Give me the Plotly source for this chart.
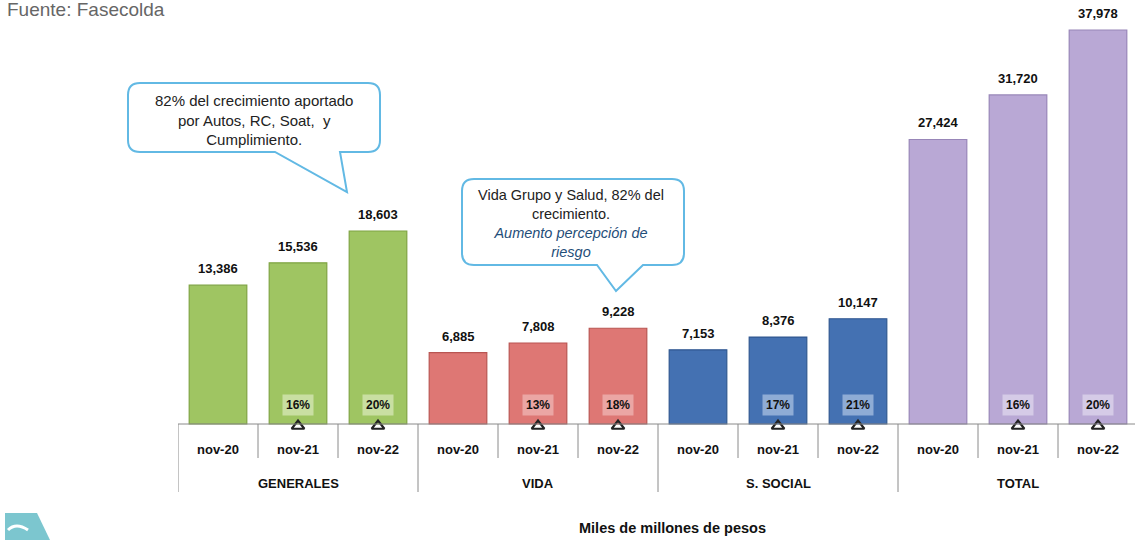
import plotly.graph_objects as go

groups = ["GENERALES", "VIDA", "S. SOCIAL", "TOTAL"]
periods = ["nov-20", "nov-21", "nov-22"]
generales = [13386, 15536, 18603]
vida = [6885, 7808, 9228]
social = [7153, 8376, 10147]
total = [27424, 31720, 37978]
growth_generales = [None, 16, 20]
growth_vida = [None, 13, 18]
growth_social = [None, 17, 21]
growth_total = [None, 16, 20]

series = [generales, vida, social, total]
growths = [growth_generales, growth_vida, growth_social, growth_total]
colors = ["#9FC562", "#DE7774", "#4471B2", "#B9A8D5"]
edges = ["#7FA443", "#B95552", "#2F5790", "#9886B8"]
pct_bg = ["rgba(235,244,215,0.55)", "rgba(250,225,225,0.45)",
          "rgba(205,220,242,0.55)", "rgba(242,238,250,0.5)"]

W, H = 1135, 540
BASE = 424            # pixel row of the category baseline
EXTRA = 12            # plot area below baseline (pixels)
ML, MR, MT = 178, 0, 0
PH = BASE + EXTRA - MT
MB = H - MT - PH
PW = W - ML - MR
SLOT = 80.0
PXU = 394 / 37978.0   # pixels per unit
YMAX = (BASE - MT) / PXU
YMIN = -EXTRA / PXU

def px(x):
    return (x - ML) / PW

def py(y):
    return (MT + PH - y) / PH

FONT = "Liberation Sans, Arial, sans-serif"

fig = go.Figure()
annotations = []
shapes = []

for gi, (vals, grw) in enumerate(zip(series, growths)):
    xs = [gi * 3 + i for i in range(3)]
    fig.add_trace(go.Bar(
        x=xs, y=vals, width=0.72,
        marker=dict(color=colors[gi], line=dict(color=edges[gi], width=1.2)),
        showlegend=False, hoverinfo="skip"))
    for x, v, g in zip(xs, vals, grw):
        annotations.append(dict(x=x, y=v, xref="x", yref="y", text=f"{v:,}",
                                showarrow=False, xanchor="center", yanchor="bottom", yshift=7,
                                font=dict(family=FONT, size=13, color="#111", weight="bold")))
        if g is not None:
            annotations.append(dict(x=x, y=0, xref="x", yref="y", text=f"{g}%",
                                    showarrow=False, xanchor="center", yanchor="middle", yshift=19,
                                    bgcolor=pct_bg[gi], borderpad=3,
                                    font=dict(family=FONT, size=12, color="#111", weight="bold")))
    tri_x = [x for x, g in zip(xs, grw) if g is not None]
    fig.add_trace(go.Scatter(
        x=tri_x, y=[-2 / PXU] * len(tri_x), mode="markers", cliponaxis=False,
        marker=dict(symbol="triangle-up-open", size=11, color="#222",
                    line=dict(color="#222", width=2.2)),
        showlegend=False, hoverinfo="skip"))
    for i, p in enumerate(periods):
        annotations.append(dict(x=gi * 3 + i, y=py(449), xref="x", yref="paper", text=p,
                                showarrow=False, xanchor="center", yanchor="middle",
                                font=dict(family=FONT, size=13, color="#111", weight="bold")))
    annotations.append(dict(x=gi * 3 + 1, y=py(483), xref="x", yref="paper", text=groups[gi],
                            showarrow=False, xanchor="center", yanchor="middle",
                            font=dict(family=FONT, size=13, color="#111", weight="bold")))

# table lines
n = len(series) * 3
shapes.append(dict(type="line", xref="x", yref="paper", x0=-0.5, x1=n - 0.5,
                   y0=py(BASE), y1=py(BASE), line=dict(color="#8a8a8a", width=1)))
for k in range(n + 1):
    bottom = py(492) if k % 3 == 0 else py(458)
    shapes.append(dict(type="line", xref="x", yref="paper", x0=k - 0.5, x1=k - 0.5,
                       y0=py(BASE), y1=bottom, line=dict(color="#8a8a8a", width=1)))

def callout(L, R, T, B, t1, t2, tip, r=12):
    pts = [
        f"M {px(L + r)},{py(T)}",
        f"L {px(R - r)},{py(T)}",
        f"Q {px(R)},{py(T)} {px(R)},{py(T + r)}",
        f"L {px(R)},{py(B - r)}",
        f"Q {px(R)},{py(B)} {px(R - r)},{py(B)}",
        f"L {px(t2)},{py(B)}",
        f"L {px(tip[0])},{py(tip[1])}",
        f"L {px(t1)},{py(B)}",
        f"L {px(L + r)},{py(B)}",
        f"Q {px(L)},{py(B)} {px(L)},{py(B - r)}",
        f"L {px(L)},{py(T + r)}",
        f"Q {px(L)},{py(T)} {px(L + r)},{py(T)}",
        "Z",
    ]
    return dict(type="path", xref="paper", yref="paper", path=" ".join(pts),
                fillcolor="white", line=dict(color="#62B9E4", width=2), layer="above")

shapes.append(callout(128, 380, 83, 152, 275, 340, (347, 192)))
shapes.append(callout(462, 684, 179, 265, 597, 643, (616, 291)))

annotations.append(dict(x=px(254), y=py(120), xref="paper", yref="paper",
                        text="82% del crecimiento aportado<br>por Autos, RC, Soat,  y<br>Cumplimiento.",
                        showarrow=False, align="center", xanchor="center", yanchor="middle",
                        font=dict(family=FONT, size=15, color="#222")))
annotations.append(dict(x=px(571), y=py(223), xref="paper", yref="paper",
                        text="Vida Grupo y Salud, 82% del<br>crecimiento.<br>"
                             "<i><span style='color:#1F4E79'>Aumento percepción de</span></i><br>"
                             "<i><span style='color:#1F4E79'>riesgo</span></i>",
                        showarrow=False, align="center", xanchor="center", yanchor="middle",
                        font=dict(family=FONT, size=14.5, color="#222")))

annotations.append(dict(x=px(5), y=py(10), xref="paper", yref="paper", text="Fuente: Fasecolda",
                        showarrow=False, xanchor="left", yanchor="middle",
                        font=dict(family=FONT, size=19, color="#666")))
annotations.append(dict(x=px(672), y=py(528), xref="paper", yref="paper",
                        text="Miles de millones de pesos", showarrow=False,
                        xanchor="center", yanchor="middle",
                        font=dict(family=FONT, size=14.5, color="#111", weight="bold")))

# logo fragment bottom-left
shapes.append(dict(type="path", xref="paper", yref="paper",
                   path=f"M {px(5)},{py(513)} L {px(37)},{py(513)} L {px(50)},{py(540)} L {px(5)},{py(540)} Z",
                   fillcolor="#7CC6CF", line=dict(width=0)))
shapes.append(dict(type="path", xref="paper", yref="paper",
                   path=f"M {px(28)},{py(530)} Q {px(16)},{py(522)} {px(8)},{py(530)}",
                   fillcolor="rgba(0,0,0,0)", line=dict(color="white", width=3)))

fig.update_layout(
    width=W, height=H, margin=dict(l=ML, r=MR, t=MT, b=MB),
    paper_bgcolor="white", plot_bgcolor="white",
    showlegend=False,
    xaxis=dict(range=[-0.5, -0.5 + PW / SLOT], showticklabels=False, showgrid=False,
               zeroline=False, showline=False, ticks="", fixedrange=True),
    yaxis=dict(range=[YMIN, YMAX], visible=False, showgrid=False, zeroline=False,
               fixedrange=True),
    annotations=annotations, shapes=shapes,
)

fig.write_html("out.html", config={"displayModeBar": False},
               post_script="document.body.style.margin='0';document.body.style.padding='0';")
